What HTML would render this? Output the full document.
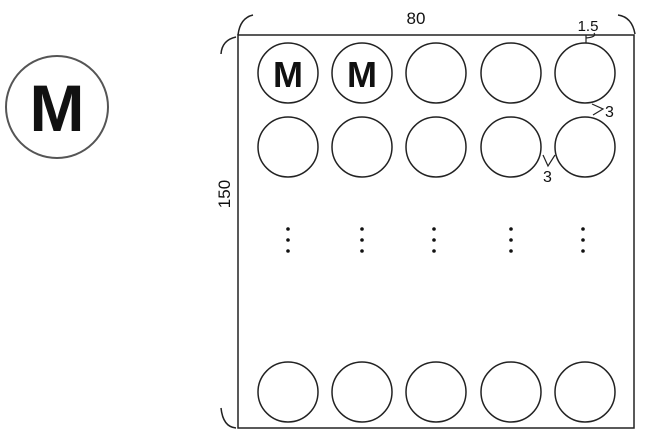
<!DOCTYPE html>
<html><head><style>body{margin:0;background:#fff}svg{display:block}</style></head><body>
<svg width="648" height="439" xmlns="http://www.w3.org/2000/svg" font-family="Liberation Sans, sans-serif">
<g fill="none" stroke="#222" stroke-width="1.5">
<circle cx="57" cy="107" r="51" stroke="#555" stroke-width="2"/>
<rect x="238" y="35" width="396" height="393"/>
<path d="M238 35 Q240 18 253 15"/>
<path d="M236 37 Q222 40 221 54"/>
<path d="M221 408 Q223 427 236 428"/>
<path d="M618 15 Q632 17 635 34"/>
<circle cx="288" cy="73" r="30"/><circle cx="362" cy="73" r="30"/><circle cx="436" cy="73" r="30"/><circle cx="511" cy="73" r="30"/><circle cx="585" cy="73" r="30"/>
<circle cx="288" cy="147" r="30"/><circle cx="362" cy="147" r="30"/><circle cx="436" cy="147" r="30"/><circle cx="511" cy="147" r="30"/><circle cx="585" cy="147" r="30"/>
<circle cx="288" cy="392" r="30"/><circle cx="362" cy="392" r="30"/><circle cx="436" cy="392" r="30"/><circle cx="511" cy="392" r="30"/><circle cx="585" cy="392" r="30"/>
<path d="M586 43 V35 M586 38 Q597 37 594 33" stroke-width="1.2"/>
<path d="M592 104 L603 109 L593 115" stroke-width="1.2"/>
<path d="M543 155 L548 166 L555 155" stroke-width="1.2"/>
</g>
<g fill="#111">
<circle cx="288" cy="229" r="1.8"/><circle cx="288" cy="240" r="1.8"/><circle cx="288" cy="251" r="1.8"/>
<circle cx="362" cy="229" r="1.8"/><circle cx="362" cy="240" r="1.8"/><circle cx="362" cy="251" r="1.8"/>
<circle cx="434" cy="229" r="1.8"/><circle cx="434" cy="240" r="1.8"/><circle cx="434" cy="251" r="1.8"/>
<circle cx="511" cy="229" r="1.8"/><circle cx="511" cy="240" r="1.8"/><circle cx="511" cy="251" r="1.8"/>
<circle cx="583" cy="229" r="1.8"/><circle cx="583" cy="240" r="1.8"/><circle cx="583" cy="251" r="1.8"/>
<text x="57" y="131" font-size="66" font-weight="bold" text-anchor="middle">M</text>
<text x="288" y="87" font-size="36" font-weight="bold" text-anchor="middle">M</text>
<text x="362" y="87" font-size="36" font-weight="bold" text-anchor="middle">M</text>
<text x="416" y="24" font-size="17" text-anchor="middle">80</text>
<text x="588" y="31" font-size="15" text-anchor="middle">1.5</text>
<text x="605" y="117" font-size="16">3</text>
<text x="543" y="182" font-size="16">3</text>
<text transform="translate(230 194) rotate(-90)" font-size="17" text-anchor="middle">150</text>
</g>
</svg>
</body></html>
